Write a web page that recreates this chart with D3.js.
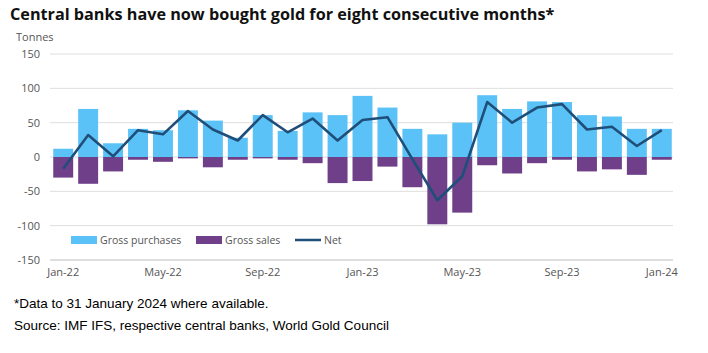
<!DOCTYPE html>
<html>
<head>
<meta charset="utf-8">
<script src="https://cdn.jsdelivr.net/npm/d3@7"></script>
<style>
  body { margin: 0; background: #fff; }
  text { font-family: "Open Sans", sans-serif; }
</style>
</head>
<body>
<script>
// monthly central bank gold flows, tonnes
let months = ['Jan-22', 'Feb-22', 'Mar-22', 'Apr-22', 'May-22', 'Jun-22', 'Jul-22', 'Aug-22', 'Sep-22', 'Oct-22', 'Nov-22', 'Dec-22',
  'Jan-23', 'Feb-23', 'Mar-23', 'Apr-23', 'May-23', 'Jun-23', 'Jul-23', 'Aug-23', 'Sep-23', 'Oct-23', 'Nov-23', 'Dec-23', 'Jan-24']
let purchases = [12, 70, 20, 41, 39, 68, 53, 28, 61, 38, 65, 61, 89, 72, 41, 33, 50, 90, 70, 81, 80, 61, 59, 41, 41]
let sales = [-30, -39, -21, -4, -7, -2, -15, -4, -2, -4, -9, -38, -35, -14, -44, -98, -81, -12, -24, -9, -4, -21, -18, -26, -4]
let net = [-17, 32, 1, 39, 33, 67, 40, 24, 61, 36, 56, 24, 54, 58, -3, -63, -28, 80, 50, 72, 77, 40, 44, 16, 39]
let yTicks = [150, 100, 50, 0, -50, -100, -150]
let xTicks = ['Jan-22', 'May-22', 'Sep-22', 'Jan-23', 'May-23', 'Sep-23', 'Jan-24']

let W = 708, H = 353
let mLeft = 50, mRight = 673, mTop = 54, mBottom = 260
let cPurch = '#5bc2f7', cSales = '#6f3f8a', cNet = '#1f4e79'

let svg = d3.select('body').append('svg')
  .attr('width', W).attr('height', H)

// title
svg.append('text')
  .attr('x', 10).attr('y', 20)
  .style('font-size', '16.2px').style('font-weight', 'bold').style('fill', '#111')
  .text('Central banks have now bought gold for eight consecutive months*')

svg.append('text')
  .attr('x', 16).attr('y', 41)
  .style('font-size', '11px').style('fill', '#555')
  .text('Tonnes')

let x = d3.scaleBand().domain(months).range([mLeft, mRight + 2]).paddingInner(0.2).paddingOuter(0.13)
let y = d3.scaleLinear().domain([-150, 150]).range([mBottom, mTop])

// gridlines
svg.append('g').selectAll('line')
  .data(yTicks)
  .enter().append('line')
  .attr('x1', mLeft).attr('x2', mRight)
  .attr('y1', d => y(d)).attr('y2', d => y(d))
  .style('stroke', d => d === -150 ? '#bfbfbf' : '#dedede')
  .style('stroke-width', 1)

svg.append('g').selectAll('text')
  .data(yTicks)
  .enter().append('text')
  .attr('x', 40).attr('y', d => y(d)).attr('dy', '.35em')
  .attr('text-anchor', 'end')
  .style('font-size', '11px').style('fill', '#555')
  .text(d => d)

// bars
svg.append('g').selectAll('rect')
  .data(purchases)
  .enter().append('rect')
  .attr('x', (d, i) => x(months[i]))
  .attr('width', x.bandwidth())
  .attr('y', d => y(d))
  .attr('height', d => y(0) - y(d))
  .style('fill', cPurch)

svg.append('g').selectAll('rect')
  .data(sales)
  .enter().append('rect')
  .attr('x', (d, i) => x(months[i]))
  .attr('width', x.bandwidth())
  .attr('y', y(0))
  .attr('height', d => y(d) - y(0))
  .style('fill', cSales)

// net line
let line = d3.line()
  .x((d, i) => x(months[i]) + x.bandwidth() / 2)
  .y(d => y(d))
svg.append('path')
  .datum(net)
  .attr('d', line)
  .style('fill', 'none').style('stroke', cNet).style('stroke-width', 2.6)
  .style('stroke-linejoin', 'round')

// x labels
svg.append('g').selectAll('text')
  .data(xTicks)
  .enter().append('text')
  .attr('x', d => x(d) + x.bandwidth() / 2).attr('y', 276)
  .attr('text-anchor', 'middle')
  .style('font-size', '11px').style('fill', '#555')
  .text(d => d)

// legend
let legend = [
  { name: 'Gross purchases', color: cPurch, type: 'rect', x: 71 },
  { name: 'Gross sales', color: cSales, type: 'rect', x: 196 },
  { name: 'Net', color: cNet, type: 'line', x: 295 }
]
let lg = svg.append('g').selectAll('g')
  .data(legend)
  .enter().append('g')
  .attr('transform', d => 'translate(' + d.x + ',240)')
lg.filter(d => d.type === 'rect').append('rect')
  .attr('x', 0).attr('y', -4).attr('width', 26).attr('height', 8)
  .style('fill', d => d.color)
lg.filter(d => d.type === 'line').append('line')
  .attr('x1', 0).attr('x2', 26).attr('y1', 0).attr('y2', 0)
  .style('stroke', d => d.color).style('stroke-width', 2.5)
lg.append('text')
  .attr('x', 29).attr('dy', '.35em')
  .style('font-size', '10.5px').style('fill', '#555')
  .text(d => d.name)

// notes
svg.append('text')
  .attr('x', 14).attr('y', 308)
  .style('font-family', '"Liberation Sans", Arial, sans-serif').style('font-size', '13.5px').style('fill', '#000')
  .text('*Data to 31 January 2024 where available.')
svg.append('text')
  .attr('x', 14).attr('y', 330)
  .style('font-family', '"Liberation Sans", Arial, sans-serif').style('font-size', '13.5px').style('fill', '#000')
  .text('Source: IMF IFS, respective central banks, World Gold Council')
</script>
</body>
</html>
